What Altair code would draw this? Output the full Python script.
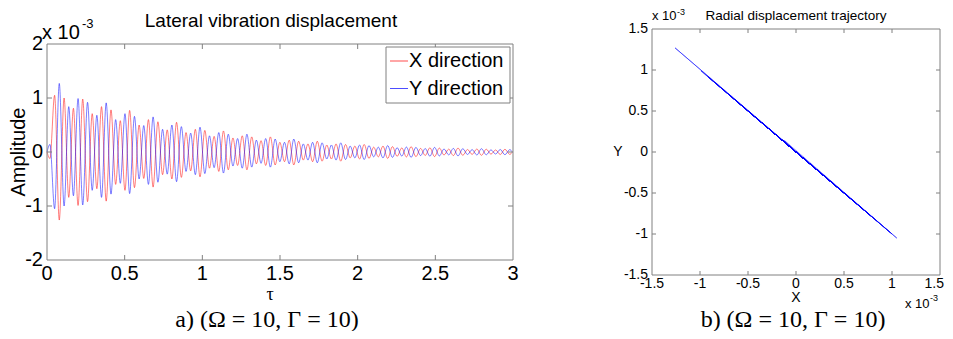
import altair as alt
import pandas as pd

# ---------------- data (amplitudes in units of 1e-3) ----------------
tau_ext = [0.0,
    0.019, 0.049, 0.079, 0.110, 0.140, 0.170, 0.200, 0.230, 0.261, 0.291,
    0.321, 0.351, 0.381, 0.412, 0.442, 0.472, 0.502, 0.532, 0.563, 0.593,
    0.623, 0.653, 0.683, 0.714, 0.744, 0.774, 0.804, 0.834, 0.865, 0.895,
    0.925, 0.955, 0.985, 1.016, 1.046, 1.076, 1.106, 1.136, 1.167, 1.197,
    1.227, 1.257, 1.287, 1.318, 1.348, 1.378, 1.408, 1.438, 1.469, 1.499,
    1.529, 1.559, 1.589, 1.620, 1.650, 1.680, 1.710, 1.740, 1.771, 1.801,
    1.831, 1.861, 1.891, 1.922, 1.952, 1.982, 2.012, 2.042, 2.073, 2.103,
    2.133, 2.163, 2.193, 2.224, 2.254, 2.284, 2.314, 2.344, 2.375, 2.405,
    2.435, 2.465, 2.495, 2.526, 2.556, 2.586, 2.616, 2.646, 2.677, 2.707,
    2.737, 2.767, 2.797, 2.828, 2.858, 2.888, 2.918, 2.948, 2.979,
    2.996]

x_ext = [0.0,
    -0.12, 1.05, -1.26, 1.00, -0.84, 0.81, -0.99, 0.98, -0.92, 0.71,
    -0.68, 0.84, -0.91, 0.78, -0.60, 0.58, -0.71, 0.77, -0.66, 0.50,
    -0.49, 0.60, -0.65, 0.56, -0.42, 0.41, -0.50, 0.55, -0.47, 0.36,
    -0.35, 0.42, -0.46, 0.40, -0.30, 0.29, -0.36, 0.39, -0.33, 0.26,
    -0.25, 0.30, -0.33, 0.28, -0.22, 0.21, -0.25, 0.28, -0.24, 0.18,
    -0.18, 0.22, -0.24, 0.20, -0.15, 0.15, -0.18, 0.20, -0.17, 0.13,
    -0.13, 0.15, -0.17, 0.14, -0.11, 0.11, -0.13, 0.14, -0.12, 0.09,
    -0.09, 0.11, -0.12, 0.10, -0.08, 0.075, -0.092, 0.10, -0.086, 0.066,
    -0.064, 0.078, -0.085, 0.073, -0.056, 0.054, -0.066, 0.072, -0.062, 0.047,
    -0.045, 0.056, -0.061, 0.052, -0.040, 0.038, -0.047, 0.051, -0.044,
    0.0]

y_ext = [0.0,
    0.14, -1.05, 1.27, -1.00, 0.84, -0.81, 0.99, -0.98, 0.92, -0.71,
    0.68, -0.84, 0.91, -0.78, 0.60, -0.58, 0.71, -0.77, 0.66, -0.50,
    0.49, -0.60, 0.65, -0.56, 0.42, -0.41, 0.50, -0.55, 0.47, -0.36,
    0.35, -0.42, 0.46, -0.40, 0.30, -0.29, 0.36, -0.39, 0.33, -0.26,
    0.25, -0.30, 0.33, -0.28, 0.22, -0.21, 0.25, -0.28, 0.24, -0.18,
    0.18, -0.22, 0.24, -0.20, 0.15, -0.15, 0.18, -0.20, 0.17, -0.13,
    0.13, -0.15, 0.17, -0.14, 0.11, -0.11, 0.13, -0.14, 0.12, -0.09,
    0.09, -0.11, 0.12, -0.10, 0.08, -0.075, 0.092, -0.10, 0.086, -0.066,
    0.064, -0.078, 0.085, -0.073, 0.056, -0.054, 0.066, -0.072, 0.062, -0.047,
    0.045, -0.056, 0.061, -0.052, 0.040, -0.038, 0.047, -0.051, 0.044,
    0.0]

series_names = ["X direction", "Y direction"]
series_colors = ["#ff0000", "#0000ff"]

tau_ticks = [0, 0.5, 1, 1.5, 2, 2.5, 3]
tau_tick_labels = ["0", "0.5", "1", "1.5", "2", "2.5", "3"]
amp_ticks = [-2, -1, 0, 1, 2]
amp_tick_labels = ["-2", "-1", "0", "1", "2"]
traj_ticks = [-1.5, -1, -0.5, 0, 0.5, 1, 1.5]
traj_tick_labels = ["-1.5", "-1", "-0.5", "0", "0.5", "1", "1.5"]

# ---------------- layout (pixels inside the chart) ----------------
SANS = "Liberation Sans"
SERIF = "Liberation Serif"
AXC = "#808080"

P1X = [39, 505]
P1Y = [252, 36]
P2X = [644, 932]
P2Y = [267, 21]


def sc(dom, rng):
    return alt.Scale(domain=dom, range=rng, nice=False, zero=False)


xs1 = lambda: sc([tau_ticks[0], tau_ticks[-1]], P1X)
ys1 = lambda: sc([amp_ticks[0], amp_ticks[-1]], P1Y)
xs2 = lambda: sc([traj_ticks[0], traj_ticks[-1]], P2X)
ys2 = lambda: sc([traj_ticks[0], traj_ticks[-1]], P2Y)

layers = []


def text(t, x, y, size, font=SANS, align="center", baseline="middle", angle=0):
    return alt.Chart(pd.DataFrame({"t": [t]})).mark_text(
        font=font, fontSize=size, align=align, baseline=baseline, angle=angle, color="black"
    ).encode(x=alt.value(x), y=alt.value(y), text="t:N")


def frame(xticks, yticks, xs, ys, tick_len):
    out = []
    box = pd.DataFrame({"x0": [xticks[0]], "x1": [xticks[-1]], "y0": [yticks[0]], "y1": [yticks[-1]]})
    out.append(alt.Chart(box).mark_rect(fillOpacity=0, stroke=AXC, strokeWidth=1).encode(
        x=alt.X("x0:Q", scale=xs(), axis=None), x2="x1:Q",
        y=alt.Y("y0:Q", scale=ys(), axis=None), y2="y1:Q"))
    tx = pd.DataFrame({"v": xticks[1:-1], "lo": yticks[0], "hi": yticks[-1]})
    ty = pd.DataFrame({"v": yticks[1:-1], "lo": xticks[0], "hi": xticks[-1]})
    out.append(alt.Chart(tx).mark_rule(color=AXC, y2Offset=-tick_len).encode(
        x=alt.X("v:Q", scale=xs(), axis=None), y=alt.Y("lo:Q", scale=ys(), axis=None), y2="lo:Q"))
    out.append(alt.Chart(tx).mark_rule(color=AXC, y2Offset=tick_len).encode(
        x=alt.X("v:Q", scale=xs(), axis=None), y=alt.Y("hi:Q", scale=ys(), axis=None), y2="hi:Q"))
    out.append(alt.Chart(ty).mark_rule(color=AXC, x2Offset=tick_len).encode(
        y=alt.Y("v:Q", scale=ys(), axis=None), x=alt.X("lo:Q", scale=xs(), axis=None), x2="lo:Q"))
    out.append(alt.Chart(ty).mark_rule(color=AXC, x2Offset=-tick_len).encode(
        y=alt.Y("v:Q", scale=ys(), axis=None), x=alt.X("hi:Q", scale=xs(), axis=None), x2="hi:Q"))
    return out


def tick_labels(xticks, xlabels, yticks, ylabels, xs, ys, size, xlab_y, ylab_x, last_right=False):
    n = len(xticks) - 1 if last_right else len(xticks)
    dx = pd.DataFrame({"v": xticks[:n], "lab": xlabels[:n]})
    dy = pd.DataFrame({"v": yticks, "lab": ylabels})
    out = [
        alt.Chart(dx).mark_text(font=SANS, fontSize=size, baseline="top", align="center", color="black").encode(
            x=alt.X("v:Q", scale=xs(), axis=None), y=alt.value(xlab_y), text="lab:N"),
        alt.Chart(dy).mark_text(font=SANS, fontSize=size, baseline="middle", align="right", color="black").encode(
            y=alt.Y("v:Q", scale=ys(), axis=None), x=alt.value(ylab_x), text="lab:N"),
    ]
    if last_right:
        dl = pd.DataFrame({"v": xticks[n:], "lab": xlabels[n:]})
        out.append(alt.Chart(dl).mark_text(font=SANS, fontSize=size, baseline="top", align="right",
                                           dx=4, color="black").encode(
            x=alt.X("v:Q", scale=xs(), axis=None), y=alt.value(xlab_y), text="lab:N"))
    return out


# ---------------- panel a: time history ----------------
df_long = pd.concat([
    pd.DataFrame({"tau": tau_ext, "amp": x_ext, "series": series_names[0]}),
    pd.DataFrame({"tau": tau_ext, "amp": y_ext, "series": series_names[1]}),
])
layers.append(alt.Chart(df_long).mark_line(interpolate="monotone", strokeWidth=0.6, opacity=0.85).encode(
    x=alt.X("tau:Q", scale=xs1(), axis=None),
    y=alt.Y("amp:Q", scale=ys1(), axis=None),
    color=alt.Color("series:N", scale=alt.Scale(domain=series_names, range=series_colors), legend=None),
))
layers += frame(tau_ticks, amp_ticks, xs1, ys1, 5)
layers += tick_labels(tau_ticks, tau_tick_labels, amp_ticks, amp_tick_labels, xs1, ys1, 20, 256, 35)

layers.append(text("Lateral vibration displacement", 263, 19, 19, baseline="alphabetic"))
layers.append(text("x 10", 34, 31, 20, align="left", baseline="alphabetic"))
layers.append(text("-3", 74, 20, 13, align="left", baseline="alphabetic"))
layers.append(text("Amplitude", 11, 144, 20, angle=270))
layers.append(text("τ", 262, 287, 18, font=SERIF))
layers.append(text("a) (Ω = 10, Γ = 10)", 259, 319, 24, font=SERIF, baseline="alphabetic"))

# legend
layers.append(alt.Chart(pd.DataFrame({"a": [0]})).mark_rect(fill="white", stroke=AXC, strokeWidth=1).encode(
    x=alt.value(378), x2=alt.value(502), y=alt.value(39), y2=alt.value(95)))
for i, (nm, col) in enumerate(zip(series_names, series_colors)):
    yy = 53 + 27.5 * i
    layers.append(alt.Chart(pd.DataFrame({"a": [0]})).mark_rule(color=col, strokeWidth=0.7).encode(
        x=alt.value(382), x2=alt.value(400), y=alt.value(yy)))
    layers.append(text(nm, 401, yy, 20, align="left"))

# ---------------- panel b: trajectory ----------------
df_traj = pd.DataFrame({"tau": tau_ext, "X": x_ext, "Y": y_ext})
layers.append(alt.Chart(df_traj).mark_line(strokeWidth=0.5, color=series_colors[1]).encode(
    x=alt.X("X:Q", scale=xs2(), axis=None),
    y=alt.Y("Y:Q", scale=ys2(), axis=None),
    order=alt.Order("tau:Q"),
))
layers += frame(traj_ticks, traj_ticks, xs2, ys2, 4)
layers += tick_labels(traj_ticks, traj_tick_labels, traj_ticks, traj_tick_labels, xs2, ys2, 14, 269, 640,
                      last_right=True)

layers.append(text("Radial displacement trajectory", 788, 12, 13.5, baseline="alphabetic"))
layers.append(text("x 10", 644, 12, 13, align="left", baseline="alphabetic"))
layers.append(text("-3", 669, 7, 9, align="left", baseline="alphabetic"))
layers.append(text("X", 788, 290, 14))
layers.append(text("Y", 610, 144, 14))
layers.append(text("x 10", 897, 300, 13, align="left", baseline="alphabetic"))
layers.append(text("-3", 922, 293, 9, align="left", baseline="alphabetic"))
layers.append(text("b) (Ω = 10, Γ = 10)", 785, 319, 24, font=SERIF, baseline="alphabetic"))

chart = alt.layer(*layers).resolve_scale(
    x="independent", y="independent", color="independent"
).properties(
    width=937, height=323,
    autosize=alt.AutoSizeParams(type="none"),
    padding=0,
    background="white",
).configure_view(stroke=None)

chart.save("out.html", embed_options={"renderer": "svg", "actions": False})
